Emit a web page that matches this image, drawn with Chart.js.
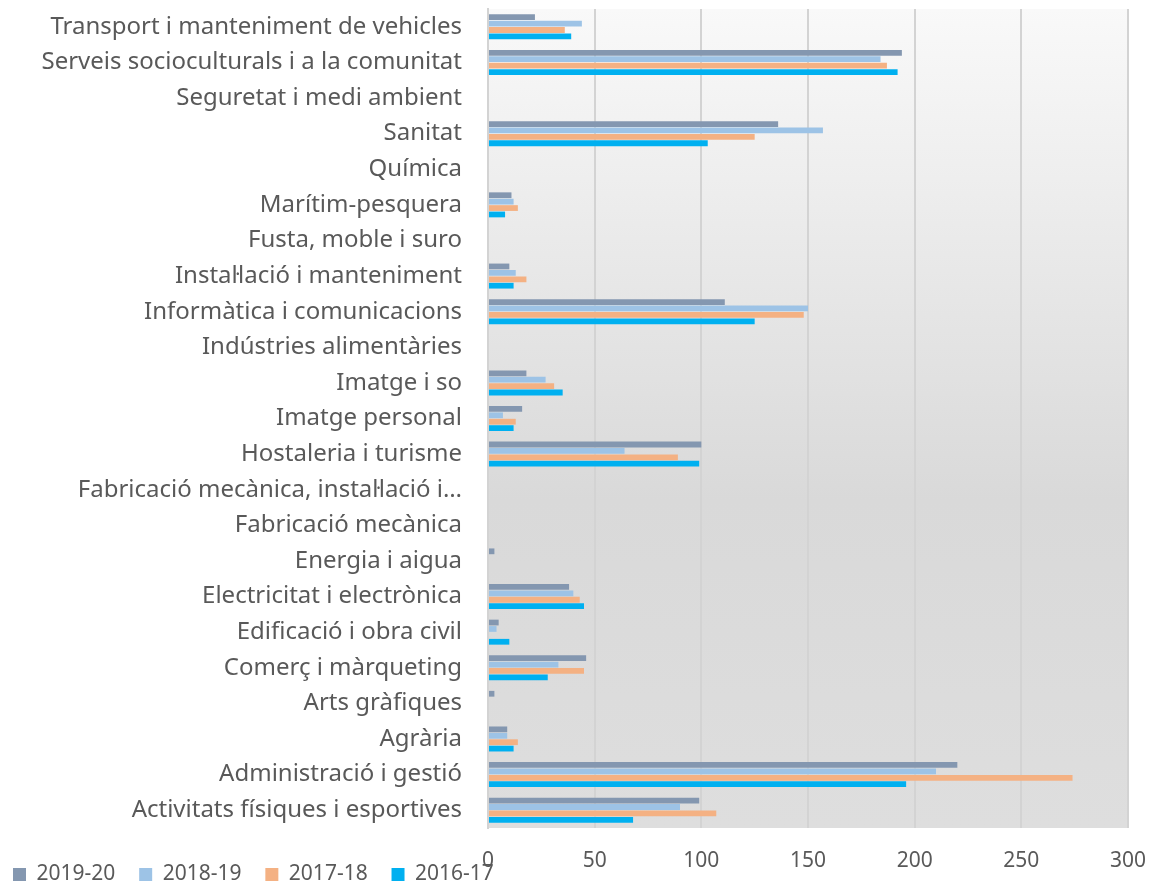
<!DOCTYPE html>
<html lang="ca">
<head>
  <meta charset="UTF-8">
  <title>Alumnes per família professional</title>
  <script src="https://cdn.jsdelivr.net/npm/chart.js"></script>
  <style>
    html, body { margin: 0; padding: 0; background: #ffffff; }
    #wrap { width: 1157px; height: 882px; }
  </style>
</head>
<body>

<div id="wrap">
  <canvas id="familiesChart"></canvas>
</div>

<script>
  const families = [
    'Transport i manteniment de vehicles',
    'Serveis socioculturals i a la comunitat',
    'Seguretat i medi ambient',
    'Sanitat',
    'Química',
    'Marítim-pesquera',
    'Fusta, moble i suro',
    'Instal·lació i manteniment',
    'Informàtica i comunicacions',
    'Indústries alimentàries',
    'Imatge i so',
    'Imatge personal',
    'Hostaleria i turisme',
    'Fabricació mecànica, instal·lació i…',
    'Fabricació mecànica',
    'Energia i aigua',
    'Electricitat i electrònica',
    'Edificació i obra civil',
    'Comerç i màrqueting',
    'Arts gràfiques',
    'Agrària',
    'Administració i gestió',
    'Activitats físiques i esportives'
  ];

  const seriesNames = ['2019-20', '2018-19', '2017-18', '2016-17'];
  const seriesColors = ['#8497b0', '#9dc3e6', '#f4b183', '#00b0f0'];

  const curs2019 = [22, 194, null, 136, null, 11, null, 10, 111, null, 18, 16, 100, null, null, 3, 38, 5, 46, 3, 9, 220, 99];
  const curs2018 = [44, 184, null, 157, null, 12, null, 13, 150, null, 27, 7, 64, null, null, null, 40, 4, 33, null, 9, 210, 90];
  const curs2017 = [36, 187, null, 125, null, 14, null, 18, 148, null, 31, 13, 89, null, null, null, 43, null, 45, null, 14, 274, 107];
  const curs2016 = [39, 192, null, 103, null, 8, null, 12, 125, null, 35, 12, 99, null, null, null, 45, 10, 28, null, 12, 196, 68];

  const xTicks = [0, 50, 100, 150, 200, 250, 300];

  const allSeries = [curs2019, curs2018, curs2017, curs2016];

  // grey gradient behind the plot area only
  const plotBackground = {
    id: 'plotBackground',
    beforeDraw(chart) {
      const { ctx, chartArea: a } = chart;
      const g = ctx.createLinearGradient(0, a.top, 0, a.bottom);
      g.addColorStop(0, '#f9f9f9');
      g.addColorStop(0.6, '#d9d9d9');
      g.addColorStop(1, '#dedede');
      ctx.save();
      ctx.fillStyle = g;
      ctx.fillRect(a.left, a.top, a.right - a.left, a.bottom - a.top);
      ctx.restore();
    }
  };

  // the legend sits in the same strip as the x tick labels, like the original
  const legendOverlap = {
    id: 'legendOverlap',
    beforeLayout(chart) {
      const lg = chart.legend;
      if (lg && !lg._squeezed) {
        const fit = lg.fit;
        lg.fit = function () { fit.call(this); this.height = 8; };
        lg._squeezed = true;
      }
    },
    afterLayout(chart) {
      const lg = chart.legend;
      if (lg) lg.top -= 12;
    }
  };

  const ctx = document.getElementById('familiesChart').getContext('2d');

  new Chart(ctx, {
    type: 'bar',
    data: {
      labels: families,
      datasets: allSeries.map((vals, i) => ({
        label: seriesNames[i],
        data: vals,
        backgroundColor: seriesColors[i],
        borderWidth: 0,
        categoryPercentage: 0.72,
        barPercentage: 0.9
      }))
    },
    options: {
      indexAxis: 'y',
      responsive: true,
      maintainAspectRatio: false,
      animation: false,
      layout: { padding: { top: 9, right: 29, left: 11, bottom: 0 } },
      plugins: {
        legend: {
          position: 'bottom',
          align: 'start',
          labels: {
            boxWidth: 13,
            boxHeight: 13,
            padding: 2,
            color: '#595959',
            font: { family: 'Noto Sans', size: 21 },
            generateLabels(chart) {
              const items = Chart.defaults.plugins.legend.labels.generateLabels(chart);
              items.forEach(it => { it.text = it.text + '\u00a0\u00a0\u00a0\u00a0'; });
              return items;
            }
          }
        },
        tooltip: { enabled: false }
      },
      scales: {
        x: {
          min: 0,
          max: 300,
          afterBuildTicks(scale) {
            scale.ticks = xTicks.map(v => ({ value: v }));
          },
          afterFit(scale) {
            scale.height = 46;
            scale.paddingLeft = 0;
            scale.paddingRight = 0;
          },
          grid: { color: '#d3d3d3', lineWidth: 2, drawTicks: false },
          border: { display: false },
          ticks: {
            padding: 20,
            color: '#595959',
            font: { family: 'Noto Sans', size: 21 }
          }
        },
        y: {
          afterFit(scale) {
            scale.width = 477;
            scale.paddingTop = 0;
            scale.paddingBottom = 0;
          },
          grid: { display: false },
          border: { color: '#d3d3d3', width: 2 },
          ticks: {
            padding: 18,
            autoSkip: false,
            color: '#595959',
            font: { family: 'Noto Sans', size: 24 }
          }
        }
      }
    },
    plugins: [plotBackground, legendOverlap]
  });
</script>

</body>
</html>
